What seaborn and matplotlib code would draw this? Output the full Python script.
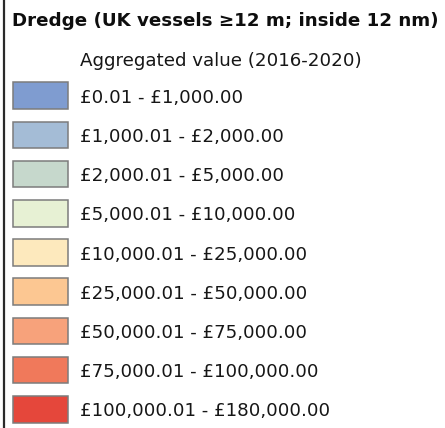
import matplotlib
matplotlib.use("Agg")
import matplotlib.pyplot as plt
from matplotlib.lines import Line2D
import pandas as pd
import seaborn as sns

# Legend content: fishing value classes and their fill colours
title = "Dredge (UK vessels \u226512 m; inside 12 nm)"
subtitle = "Aggregated value (2016-2020)"
class_labels = [
    "\u00a30.01 - \u00a31,000.00",
    "\u00a31,000.01 - \u00a32,000.00",
    "\u00a32,000.01 - \u00a35,000.00",
    "\u00a35,000.01 - \u00a310,000.00",
    "\u00a310,000.01 - \u00a325,000.00",
    "\u00a325,000.01 - \u00a350,000.00",
    "\u00a350,000.01 - \u00a375,000.00",
    "\u00a375,000.01 - \u00a3100,000.00",
    "\u00a3100,000.01 - \u00a3180,000.00",
]
class_colors = [
    "#7f9cd0", "#a4bcd6", "#c6d8cc", "#e7f1d4", "#fde9bd",
    "#fcc792", "#f7a27b", "#f0795b", "#e5473b",
]

sns.set_theme(style="white")
plt.rcParams["font.family"] = ["DejaVu Sans"]

W, H = 445, 428
FS = 13.15
fig = plt.figure(figsize=(W / 100, H / 100), dpi=100)
fig.patch.set_facecolor("white")

# Swatch column: one categorical row per class
row_h = 39.2
top = 95.7 - row_h / 2
ax_h = 9 * row_h
pad_x = 0.02
sw_w = 55.0
ax = fig.add_axes([(13.2 - sw_w * pad_x) / W, (H - top - ax_h) / H,
                   sw_w * (1 + 2 * pad_x) / W, ax_h / H])
df = pd.DataFrame({"label": class_labels})
df["swatch"] = 1.0
sns.barplot(data=df, y="label", x="swatch", hue="label", palette=class_colors,
            legend=False, saturation=1, width=26.6 / row_h,
            edgecolor="#7c7c7c", linewidth=1.1, ax=ax)
for p in ax.patches:
    p.set_clip_on(False)
ax.set_xlim(-pad_x, 1 + pad_x)
ax.set_xlabel("")
ax.set_ylabel("")
ax.set_xticks([])
for s in ax.spines.values():
    s.set_visible(False)
ax.yaxis.tick_right()
ax.tick_params(axis="y", length=0, pad=8.0, labelsize=FS, labelcolor="#161616")
ax.patch.set_alpha(0)

# Heading texts
fig.text(12.5 / W, 1 - 25.7 / H, title, fontsize=FS, fontweight="bold",
         color="#0e0e0e", va="baseline", ha="left")
fig.text(80.5 / W, 1 - 65.7 / H, subtitle, fontsize=FS,
         color="#161616", va="baseline", ha="left")

# Frame line on the left edge
fig.add_artist(Line2D([3.8 / W, 3.8 / W], [0, 1], color="#2a2a2a", lw=1.6))

fig.savefig("out.png", dpi=100, facecolor="white")
